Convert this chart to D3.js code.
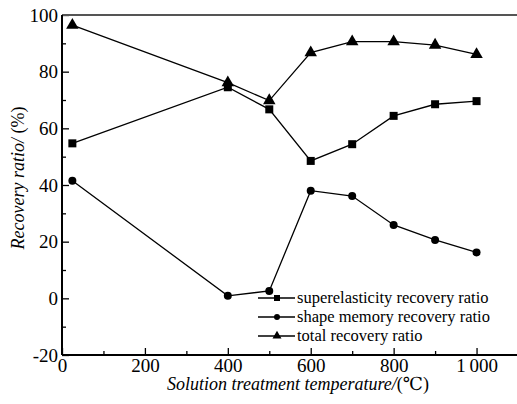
<!DOCTYPE html>
<html>
<head>
<meta charset="utf-8">
<script src="https://cdn.jsdelivr.net/npm/d3@7"></script>
<style>
  body { margin: 0; background: #fff; }
  svg { display: block; }
  text { font-family: "Liberation Serif", "DejaVu Serif", serif; fill: #000; }
  .axis path { display: none; }
  .axis line { stroke: #000; stroke-width: 1.3; }
  .axis text { font-size: 19px; }
  .legend { font-size: 16.5px; }
</style>
</head>
<body>
<svg width="517" height="404"></svg>
<script>
// data
var temps = [25, 400, 500, 600, 700, 800, 900, 1000];
var superelastic = [54.7, 74.5, 66.7, 48.5, 54.4, 64.4, 68.5, 69.6];
var shapeMemory = [41.5, 0.9, 2.6, 38.0, 36.1, 25.9, 20.6, 16.2];
var total = [96.4, 76.1, 69.8, 86.7, 90.6, 90.6, 89.4, 86.1];
var xTicks = [0, 200, 400, 600, 800, 1000];
var yTicks = [-20, 0, 20, 40, 60, 80, 100];

var series = [
  {name: "superelasticity recovery ratio", values: superelastic, shape: "square"},
  {name: "shape memory recovery ratio", values: shapeMemory, shape: "circle"},
  {name: "total recovery ratio", values: total, shape: "triangle"}
];

var svg = d3.select("svg");
var margin = {top: 15, left: 62};
var width = 456, height = 340;

var x = d3.scaleLinear().domain([0, 1100]).range([0, width]);
var y = d3.scaleLinear().domain([-20, 100]).range([height, 0]);

var g = svg.append("g").attr("transform", "translate(" + margin.left + "," + margin.top + ")");

// minor ticks
g.append("g").attr("class", "axis")
    .call(d3.axisLeft(y).tickValues(d3.range(-10, 100, 20)).tickSize(-4).tickFormat(""));
g.append("g").attr("class", "axis")
    .attr("transform", "translate(0," + height + ")")
    .call(d3.axisBottom(x).tickValues(d3.range(100, 1100, 200)).tickSize(-4).tickFormat(""));

// major ticks
g.append("g").attr("class", "axis")
    .call(d3.axisLeft(y).tickValues(yTicks).tickSizeInner(-7).tickPadding(4)
        .tickFormat(function(d) { return d; }));
g.append("g").attr("class", "axis")
    .attr("transform", "translate(0," + height + ")")
    .call(d3.axisBottom(x).tickValues(xTicks).tickSizeInner(-7).tickPadding(3)
        .tickFormat(function(d) { return d >= 1000 ? "1\u2009000" : d; }));
g.selectAll(".axis").attr("font-family", null);

// frame
g.append("line").attr("x1", 0).attr("x2", width).attr("y1", 0).attr("y2", 0)
    .attr("stroke", "#555").attr("stroke-width", 2);
g.append("line").attr("x1", 0).attr("x2", 0).attr("y1", 0).attr("y2", height)
    .attr("stroke", "#000").attr("stroke-width", 2);
g.append("line").attr("x1", 0).attr("x2", width).attr("y1", height).attr("y2", height)
    .attr("stroke", "#000").attr("stroke-width", 2.2);

function marker(sel, shape, s) {
  if (shape === "square") {
    sel.append("rect").attr("x", -s / 2).attr("y", -s / 2).attr("width", s).attr("height", s);
  } else if (shape === "circle") {
    sel.append("circle").attr("r", s / 2);
  } else {
    var h = s * 0.866;
    sel.append("path").attr("d", "M0," + (-h * 2 / 3) + "L" + (s / 2) + "," + (h / 3) +
        "L" + (-s / 2) + "," + (h / 3) + "Z");
  }
}

var line = d3.line()
    .x(function(d, i) { return x(temps[i]); })
    .y(function(d) { return y(d); });

series.forEach(function(s) {
  g.append("path")
      .attr("d", line(s.values))
      .attr("fill", "none")
      .attr("stroke", "#000")
      .attr("stroke-width", 1.3);
  s.values.forEach(function(v, i) {
    var m = g.append("g")
        .attr("transform", "translate(" + x(temps[i]) + "," + y(v) + ")")
        .attr("fill", "#000");
    marker(m, s.shape, s.shape === "triangle" ? 12.5 : 8);
  });
});

// legend
var leg = svg.append("g").attr("transform", "translate(258,298)");
series.forEach(function(s, i) {
  var row = leg.append("g").attr("transform", "translate(0," + (i * 19) + ")");
  row.append("line").attr("x1", 0).attr("x2", 37).attr("stroke", "#000").attr("stroke-width", 1.3);
  var m = row.append("g").attr("transform", "translate(19,0)").attr("fill", "#000");
  marker(m, s.shape, s.shape === "triangle" ? 9 : 6);
  row.append("text").attr("class", "legend")
      .attr("x", 39).attr("dy", "0.33em")
      .text(s.name);
});

// axis titles
var xt = svg.append("text")
    .attr("x", 298).attr("y", 390)
    .attr("text-anchor", "middle")
    .style("font-size", "18px");
xt.append("tspan").style("font-style", "italic").text("Solution treatment temperature/");
xt.append("tspan").text("(\u2103)");

var yt = svg.append("text")
    .attr("transform", "translate(24,178) rotate(-90)")
    .attr("text-anchor", "middle")
    .style("font-size", "18px");
yt.append("tspan").style("font-style", "italic").text("Recovery ratio/ ");
yt.append("tspan").text("(%)");
</script>
</body>
</html>
